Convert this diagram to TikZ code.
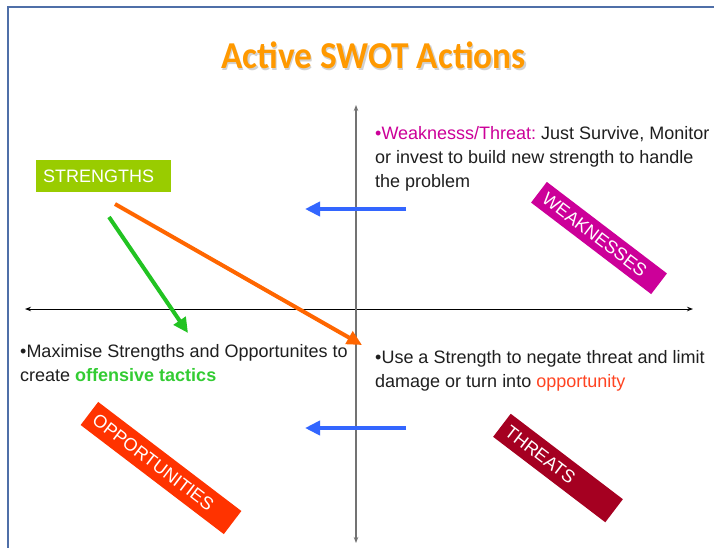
\documentclass[tikz,border=0pt]{standalone}
\usepackage{fontspec}
\setmainfont{Liberation Sans}
\newfontfamily\titlefont{Carlito}
\usetikzlibrary{arrows.meta}
\definecolor{framecol}{HTML}{4F6FA8}
\definecolor{titleorange}{HTML}{FF9900}
\definecolor{strgreen}{HTML}{99CC00}
\definecolor{weakmag}{HTML}{CC0099}
\definecolor{oppred}{HTML}{FF3300}
\definecolor{thrred}{HTML}{A50021}
\definecolor{arrorange}{HTML}{FF6600}
\definecolor{arrgreen}{HTML}{22C322}
\definecolor{arrblue}{HTML}{3366FF}
\definecolor{txtopp}{HTML}{FF4422}
\definecolor{txtgreen}{HTML}{33CC33}
\begin{document}
\begin{tikzpicture}[x=1pt,y=-1pt,
  bodytxt/.style={font=\fontsize{18}{22}\selectfont\frenchspacing, text=black!88, inner sep=0pt, anchor=base west},
  label box/.style={fill=#1, text=white, font=\fontsize{18}{20}\selectfont, inner ysep=0pt, inner xsep=7pt, align=left, rotate=-37.3},
  axis line/.style={line width=1pt, {Stealth[length=6pt,width=4.5pt]}-{Stealth[length=6pt,width=4.5pt]}},
  fat arrow/.style={line width=4pt, color=#1, -{Triangle[length=15pt,width=14pt]}},
  titletxt/.style={font=\titlefont\bfseries\fontsize{38}{40}\selectfont, anchor=base}
]
\useasboundingbox (0,0) rectangle (714,547);
\fill[white] (0,0) rectangle (714,547);
% slide frame
\draw[framecol, line width=1.6pt] (8,548) -- (8,7) -- (715,7);

% title
\node[titletxt, text=black!18] (titleshadow) at (375,70) {\scalebox{0.93}[1]{Active SWOT Actions}};
\node[titletxt, text=titleorange] (title) at (373.5,68) {\scalebox{0.93}[1]{Active SWOT Actions}};

% axes
\coordinate (xl) at (25,309);
\coordinate (xr) at (693,309);
\coordinate (yt) at (356,105);
\coordinate (yb) at (356,543);
\draw[axis line, black] (xl) -- (xr);
\draw[axis line, black!55, line width=1.6pt] (yt) -- (yb);

% STRENGTHS box
\node[fill=strgreen, text=white, font=\fontsize{18}{20}\selectfont, minimum width=135pt, minimum height=32pt, text width=121pt, inner xsep=7pt, align=left, anchor=north west] (str) at (36,160) {STRENGTHS};

% rotated label boxes
\node[label box=weakmag, minimum height=26pt, text width=137pt] (weak) at (599,238) {WEAKNESSES};
\node[label box=oppred, minimum height=29pt, text width=166pt] (opp) at (161,468) {OPPORTUNITIES};
\node[label box=thrred, minimum height=29pt, text width=127pt] (thr) at (558,468) {THREATS};

% fat arrows
\coordinate (oS) at (115,204);
\coordinate (oE) at (362,345);
\coordinate (gS) at (109,217);
\coordinate (gE) at (188,333);
\coordinate (b1S) at (406,209);
\coordinate (b1E) at (305,209);
\coordinate (b2S) at (406,428);
\coordinate (b2E) at (305,428);
\draw[fat arrow=arrorange] (oS) -- (oE);
\draw[fat arrow=arrgreen] (gS) -- (gE);
\draw[fat arrow=arrblue] (b1S) -- (b1E);
\draw[fat arrow=arrblue] (b2S) -- (b2E);

% texts
\node[bodytxt] (w1) at (375,139) {\textcolor{weakmag}{•Weaknesss/Threat:} Just Survive, Monitor};
\node[bodytxt] (w2) at (375,163) {or invest to build new strength to handle};
\node[bodytxt] (w3) at (375,187) {the problem};
\node[bodytxt] (m1) at (20,357) {•Maximise Strengths and Opportunites to};
\node[bodytxt] (m2) at (20,381) {create \textcolor{txtgreen}{\bfseries offensive tactics}};
\node[bodytxt] (u1) at (375,363) {•Use a Strength to negate threat and limit};
\node[bodytxt] (u2) at (375,387) {damage or turn into \textcolor{txtopp}{opportunity}};
\end{tikzpicture}
\end{document}
